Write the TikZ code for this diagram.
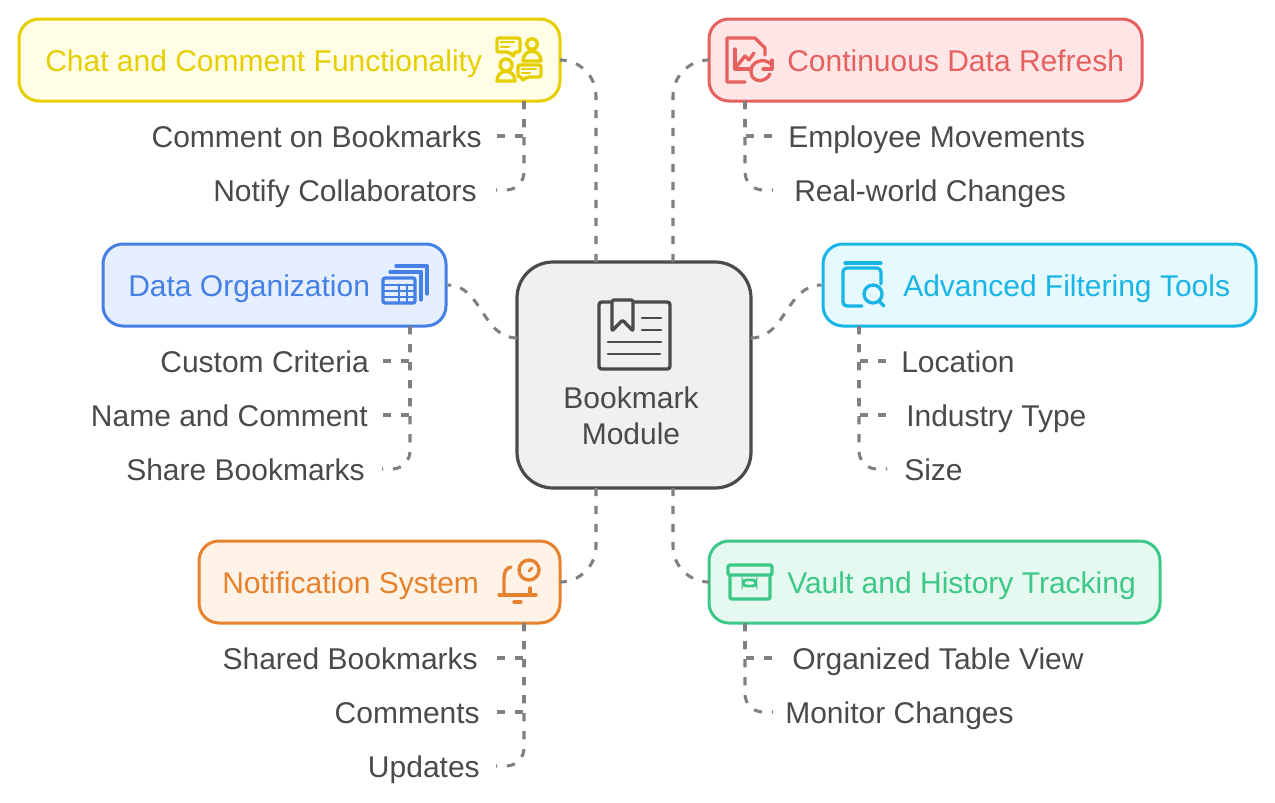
\documentclass[tikz,border=0pt]{standalone}
\usepackage{fontspec}
\setmainfont{Liberation Sans}
\usepackage{xcolor}
\usetikzlibrary{arrows.meta}

\definecolor{inkgray}{HTML}{4A4A4A}
\definecolor{linkgray}{HTML}{808080}
\definecolor{chatline}{HTML}{E6CF00}
\definecolor{chatfill}{HTML}{FFFDE6}
\definecolor{refreshline}{HTML}{E66060}
\definecolor{refreshfill}{HTML}{FFE6E6}
\definecolor{orgline}{HTML}{4580E6}
\definecolor{orgfill}{HTML}{E6EFFF}
\definecolor{filterline}{HTML}{19B5E6}
\definecolor{filterfill}{HTML}{E6F9FF}
\definecolor{noteline}{HTML}{E6822E}
\definecolor{notefill}{HTML}{FFF2E6}
\definecolor{vaultline}{HTML}{3CC987}
\definecolor{vaultfill}{HTML}{E6F9F0}

\tikzset{
  topicbox/.style={draw=#1line,fill=#1fill,line width=2.25pt,rounded corners=15pt,
    inner sep=0pt,minimum height=61.5pt},
  topictext/.style={text=#1line,font=\fontsize{22.5}{25}\selectfont,anchor=west,
    inner sep=0pt,text height=22pt,text depth=4.5pt},
  sublabel/.style={text=inkgray,font=\fontsize{22.5}{25}\selectfont,
    inner ysep=0pt,inner xsep=#1*0.75pt,text height=22pt,text depth=4.5pt},
  hubtext/.style={text=inkgray,font=\fontsize{22.5}{25}\selectfont,
    inner sep=0pt,text height=22pt,text depth=4.5pt},
  link/.style={draw=linkgray,line width=2.3pt,dash pattern=on 6.2pt off 7.3pt},
  glyph/.style={draw=#1,line width=2.5pt,line join=round,line cap=round},
  glyphthin/.style={draw=#1,line width=2.1pt,line cap=round},
}

\begin{document}
\begin{tikzpicture}[x=0.75pt,y=-0.75pt]
  \useasboundingbox (0,0) rectangle (1275,803);

  % hub
  \node (hub) at (634,375) [draw=inkgray,fill=black!6,line width=2.4pt,rounded corners=27pt,
    minimum width=175.5pt,minimum height=169.5pt,inner sep=0pt] {};
  \node (hubtop) at (631,397) [hubtext] {Bookmark};
  \node (hubbottom) at (631,433) [hubtext] {Module};

  % topic boxes
  \node (chat) at (289.5,60) [topicbox=chat,minimum width=405.75pt] {};
  \node (refresh) at (925.5,60) [topicbox=refresh,minimum width=324.75pt] {};
  \node (org) at (274.5,285) [topicbox=org,minimum width=257.25pt] {};
  \node (filter) at (1039.5,285) [topicbox=filter,minimum width=324.75pt] {};
  \node (note) at (379.5,582) [topicbox=note,minimum width=270.75pt] {};
  \node (vault) at (934.5,582) [topicbox=vault,minimum width=338.25pt] {};

  \node (chattitle) at (45,60) [topictext=chat] {Chat and Comment Functionality};
  \node (refreshtitle) at (787,60) [topictext=refresh] {Continuous Data Refresh};
  \node (orgtitle) at (128,285) [topictext=org] {Data Organization};
  \node (filtertitle) at (903,285) [topictext=filter] {Advanced Filtering Tools};
  \node (notetitle) at (222,582) [topictext=note] {Notification System};
  \node (vaulttitle) at (787,582) [topictext=vault] {Vault and History Tracking};

  % sub labels
  \node (c1) at (496,136) [sublabel=14,anchor=east] {Comment on Bookmarks};
  \node (c2) at (496,190) [sublabel=19,anchor=east] {Notify Collaborators};
  \node (r1) at (773,136) [sublabel=15,anchor=west] {Employee Movements};
  \node (r2) at (773,190) [sublabel=21,anchor=west] {Real-world Changes};
  \node (o1) at (382,361) [sublabel=13,anchor=east] {Custom Criteria};
  \node (o2) at (382,415) [sublabel=14,anchor=east] {Name and Comment};
  \node (o3) at (382,469) [sublabel=17,anchor=east] {Share Bookmarks};
  \node (f1) at (887,361) [sublabel=14,anchor=west] {Location};
  \node (f2) at (887,415) [sublabel=19,anchor=west] {Industry Type};
  \node (f3) at (887,469) [sublabel=17,anchor=west] {Size};
  \node (n1) at (496,658) [sublabel=18,anchor=east] {Shared Bookmarks};
  \node (n2) at (496,712) [sublabel=16,anchor=east] {Comments};
  \node (n3) at (496,766) [sublabel=16,anchor=east] {Updates};
  \node (v1) at (773,658) [sublabel=19,anchor=west] {Organized Table View};
  \node (v2) at (773,712) [sublabel=12,anchor=west] {Monitor Changes};

  % hub connectors
  \coordinate (hubnw) at (596,262);
  \coordinate (hubne) at (673,262);
  \coordinate (hubsw) at (596,488);
  \coordinate (hubse) at (673,488);
  \coordinate (hubw) at (517,338);
  \coordinate (hube) at (751,338);
  \draw[link,rounded corners=27pt] (chat.east) -| (hubnw);
  \draw[link,rounded corners=27pt] (refresh.west) -| (hubne);
  \draw[link,rounded corners=27pt] (note.east) -| (hubsw);
  \draw[link,rounded corners=27pt] (vault.west) -| (hubse);
  \draw[link,dash pattern=on 6.2pt off 7pt] (hubw) .. controls (482,338) and (482,285) .. (org.east);
  \draw[link,dash pattern=on 6.2pt off 7pt] (hube) .. controls (786,338) and (786,285) .. (filter.west);

  % drops from the boxes
  \coordinate (chatdrop) at (524,101);
  \coordinate (refreshdrop) at (745,101);
  \coordinate (orgdrop) at (410,326);
  \coordinate (filterdrop) at (859,326);
  \coordinate (notedrop) at (524,623);
  \coordinate (vaultdrop) at (745,623);
  \draw[link] (chatdrop) |- (c1.east);
  \draw[link,rounded corners=13.5pt] (chatdrop) |- (c2.east);
  \draw[link] (refreshdrop) |- (r1.west);
  \draw[link,rounded corners=13.5pt] (refreshdrop) |- (r2.west);
  \draw[link] (orgdrop) |- (o1.east);
  \draw[link] (orgdrop) |- (o2.east);
  \draw[link,rounded corners=13.5pt] (orgdrop) |- (o3.east);
  \draw[link] (filterdrop) |- (f1.west);
  \draw[link] (filterdrop) |- (f2.west);
  \draw[link,rounded corners=13.5pt] (filterdrop) |- (f3.west);
  \draw[link] (notedrop) |- (n1.east);
  \draw[link] (notedrop) |- (n2.east);
  \draw[link,rounded corners=13.5pt] (notedrop) |- (n3.east);
  \draw[link] (vaultdrop) |- (v1.west);
  \draw[link,rounded corners=13.5pt] (vaultdrop) |- (v2.west);

  % hub icon
  \draw[glyph=inkgray,rounded corners=2pt] (599,302) rectangle (670,369);
  \draw[glyph=inkgray,fill=black!6,rounded corners=1.5pt] (612,331) -- (612,300) -- (633,300) -- (633,331) -- (622.5,320) -- cycle;
  \draw[glyphthin=inkgray] (642,318) -- (661,318);
  \draw[glyphthin=inkgray] (642,330) -- (661,330);
  \draw[glyphthin=inkgray] (608,342) -- (661,342);
  \draw[glyphthin=inkgray] (608,354) -- (660,354);

  % chat icon
  \draw[glyph=chatline,rounded corners=1.5pt] (497,38) -- (520,38) -- (520,52) -- (514,52) -- (514,57) -- (509,52) -- (497,52) -- cycle;
  \draw[glyphthin=chatline] (501,42) -- (514,42);
  \draw[glyphthin=chatline] (501,47) -- (509,47);
  \draw[glyph=chatline] (532,44) circle (5.5);
  \draw[glyph=chatline] (523,61) .. controls (523,48) and (541,48) .. (541,61) -- cycle;
  \draw[glyph=chatline] (506,65) circle (6);
  \draw[glyph=chatline] (497,81) .. controls (497,68) and (515,68) .. (515,81) -- cycle;
  \draw[glyph=chatline,fill=chatfill,rounded corners=1.5pt] (518,65) -- (541,65) -- (541,77) -- (527,77) -- (522,81) -- (522,77) -- (518,77) -- cycle;
  \draw[glyphthin=chatline] (522,69) -- (536,69);
  \draw[glyphthin=chatline] (522,73) -- (530,73);

  % refresh icon
  \draw[glyph=refreshline] (745,82) -- (727,82) -- (727,38) -- (755,38) -- (765,48) -- (765,55);
  \draw[glyph=refreshline] (735,49) -- (735,69) -- (749,69);
  \draw[glyph=refreshline] (737,66) -- (745,56) -- (749,60) -- (754,53);
  \draw[glyph=refreshline] (772,65) .. controls (764,56) and (750,62) .. (751,72) .. controls (751,82) and (765,84) .. (770,74);
  \draw[glyph=refreshline] (772,60) -- (772,69) -- (763,69);

  % org icon
  \draw[glyph=orgline] (396,266) -- (427,266) -- (427,294);
  \draw[glyph=orgline] (390,272) -- (421,272) -- (421,300);
  \draw[glyph=orgline,rounded corners=1.5pt] (383,278) rectangle (415,303);
  \draw[glyphthin=orgline] (383,285) -- (415,285);
  \draw[glyphthin=orgline] (383,291) -- (415,291);
  \draw[glyphthin=orgline] (383,297) -- (415,297);
  \draw[glyphthin=orgline] (399,285) -- (399,303);
  \draw[glyphthin=orgline] (407,285) -- (407,303);

  % filter icon
  \draw[glyph=filterline] (845,263) -- (881,263);
  \draw[glyph=filterline,rounded corners=3pt] (862,306) -- (843,306) -- (843,268) -- (881,268) -- (881,284);
  \draw[glyph=filterline] (873,294) circle (9);
  \draw[glyph=filterline] (879,301) -- (884,306);

  % note icon
  \draw[glyph=noteline] (529,570) circle (10);
  \draw[glyphthin=noteline] (529,571) -- (532,568);
  \draw[glyph=noteline] (511,567) .. controls (506,568) and (504,572) .. (504,578) -- (504,595);
  \draw[glyph=noteline] (499,595) -- (536,595);
  \draw[glyph=noteline] (530,588) -- (530,595);
  \draw[glyph=noteline] (514,602) -- (521,602);

  % vault icon
  \draw[glyph=vaultline,rounded corners=1.5pt] (728,565) rectangle (772,575);
  \draw[glyph=vaultline,rounded corners=1.5pt] (730,575) -- (730,599) -- (770,599) -- (770,575);
  \draw[glyphthin=vaultline,rounded corners=2.5pt] (743,580) rectangle (756,586);
\end{tikzpicture}
\end{document}
